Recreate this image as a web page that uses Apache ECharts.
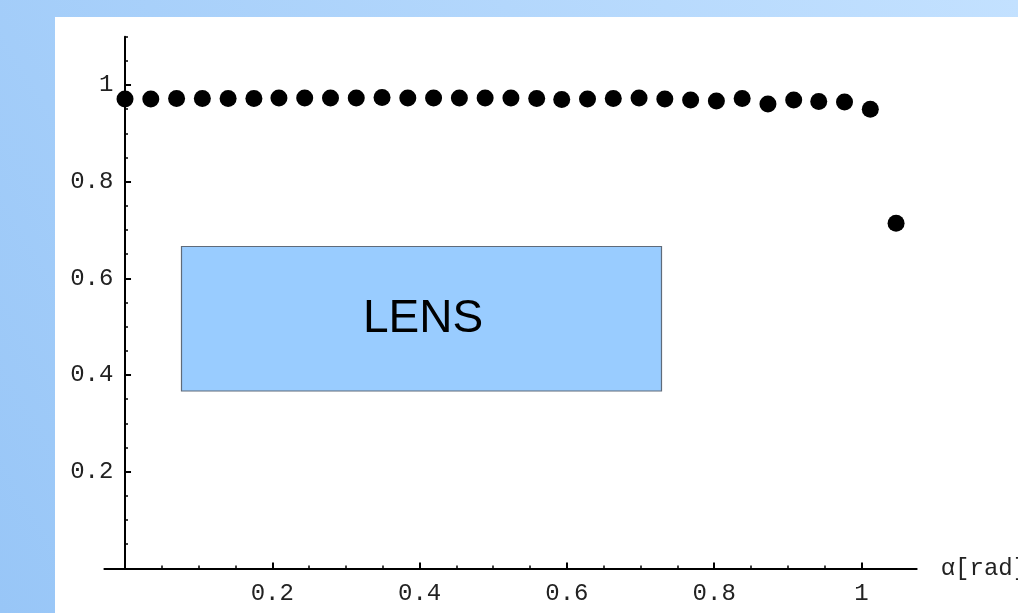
<!DOCTYPE html>
<html>
<head>
<meta charset="utf-8">
<script src="https://cdn.jsdelivr.net/npm/echarts@6/dist/echarts.min.js"></script>
<style>
html,body{margin:0;padding:0;}
#chart{width:1018px;height:613px;}
</style>
</head>
<body>
<div id="chart"></div>
<script>
// angle alpha [rad] (2 degree steps)
const alphaRad = [0.000, 0.035, 0.070, 0.105, 0.140, 0.175, 0.209, 0.244, 0.279, 0.314,
                  0.349, 0.384, 0.419, 0.454, 0.489, 0.524, 0.559, 0.593, 0.628, 0.663,
                  0.698, 0.733, 0.768, 0.803, 0.838, 0.873, 0.908, 0.942, 0.977, 1.012, 1.047];
const efficiency = [0.971, 0.971, 0.972, 0.972, 0.972, 0.972, 0.973, 0.973, 0.973, 0.973,
                    0.974, 0.973, 0.973, 0.973, 0.973, 0.973, 0.972, 0.970, 0.971, 0.972,
                    0.973, 0.971, 0.969, 0.967, 0.972, 0.961, 0.969, 0.966, 0.965, 0.950, 0.714];
const xMajorTicks = [0.2, 0.4, 0.6, 0.8, 1.0];
const xMinorTicks = [0.05, 0.1, 0.15, 0.25, 0.3, 0.35, 0.45, 0.5, 0.55, 0.65, 0.7, 0.75, 0.85, 0.9, 0.95];
const yMajorTicks = [0.2, 0.4, 0.6, 0.8, 1.0];
const yMinorTicks = [0.05, 0.1, 0.15, 0.25, 0.3, 0.35, 0.45, 0.5, 0.55, 0.65, 0.7, 0.75, 0.85, 0.9, 0.95, 1.05, 1.1];
const xAxisName = 'α[rad]';
const boxLabel = 'LENS';

const points = alphaRad.map((a, i) => [a, efficiency[i]]);
const fmt = v => (Math.abs(v - 1) < 1e-9 ? '1' : v.toFixed(1));
const monoFont = {fontFamily: 'Liberation Mono', fontSize: 24, color: '#222'};

const chart = echarts.init(document.getElementById('chart'), null, {renderer: 'canvas'});
chart.setOption({
  animation: false,
  backgroundColor: 'transparent',
  graphic: [
    {type: 'rect', z: -100, silent: true, shape: {x: 0, y: 0, width: 1018, height: 613},
     style: {fill: new echarts.graphic.LinearGradient(0, 1, 1, 0, [
       {offset: 0, color: '#98c6f7'}, {offset: 1, color: '#c3e1ff'}])}},
    {type: 'rect', z: -99, silent: true, shape: {x: 55, y: 17, width: 963, height: 596},
     style: {fill: '#ffffff'}},
    {type: 'rect', z: 50, silent: true, shape: {x: 181.5, y: 246.5, width: 480, height: 144.5},
     style: {fill: '#99ccff', stroke: '#5f6b7a', lineWidth: 1.2}},
    {type: 'text', z: 51, silent: true, x: 423, y: 319,
     style: {text: boxLabel, fill: '#000', fontFamily: 'Liberation Sans', fontSize: 46,
             align: 'center', verticalAlign: 'middle'}}
  ],
  grid: {left: 104.4, right: 101.3, top: 36.7, bottom: 44.6, containLabel: false, outerBoundsMode: 'none'},
  xAxis: [
    {type: 'value', min: -0.028, max: 1.075, position: 'bottom',
     name: xAxisName, nameLocation: 'end', nameGap: 24,
     nameTextStyle: {fontFamily: 'Liberation Mono', fontSize: 24, color: '#222', verticalAlign: 'middle', align: 'left'},
     axisLine: {show: true, onZero: false, lineStyle: {color: '#000', width: 2}},
     axisTick: {show: true, inside: true, length: 6, customValues: xMajorTicks, lineStyle: {color: '#000', width: 2}},
     axisLabel: {show: true, customValues: xMajorTicks, formatter: fmt, margin: 13, ...monoFont},
     splitLine: {show: false}},
    {type: 'value', min: -0.028, max: 1.075, position: 'bottom',
     axisLine: {show: false, onZero: false},
     axisTick: {show: true, inside: true, length: 3, customValues: xMinorTicks, lineStyle: {color: '#000', width: 1.5}},
     axisLabel: {show: false},
     splitLine: {show: false}}
  ],
  yAxis: [
    {type: 'value', min: 0, max: 1.1, position: 'left',
     axisLine: {show: true, onZero: true, onZeroAxisIndex: 0, lineStyle: {color: '#000', width: 2}},
     axisTick: {show: true, inside: true, length: 6, customValues: yMajorTicks, lineStyle: {color: '#000', width: 2}},
     axisLabel: {show: true, customValues: yMajorTicks, formatter: fmt, margin: -9, ...monoFont},
     splitLine: {show: false}},
    {type: 'value', min: 0, max: 1.1, position: 'left',
     axisLine: {show: false, onZero: true, onZeroAxisIndex: 1},
     axisTick: {show: true, inside: true, length: 3, customValues: yMinorTicks, lineStyle: {color: '#000', width: 1.5}},
     axisLabel: {show: false},
     splitLine: {show: false}}
  ],
  series: [{
    type: 'scatter', xAxisIndex: 0, yAxisIndex: 0, data: points,
    symbol: 'circle', symbolSize: 17, clip: false,
    itemStyle: {color: '#000', opacity: 1}
  }]
});
</script>
</body>
</html>
